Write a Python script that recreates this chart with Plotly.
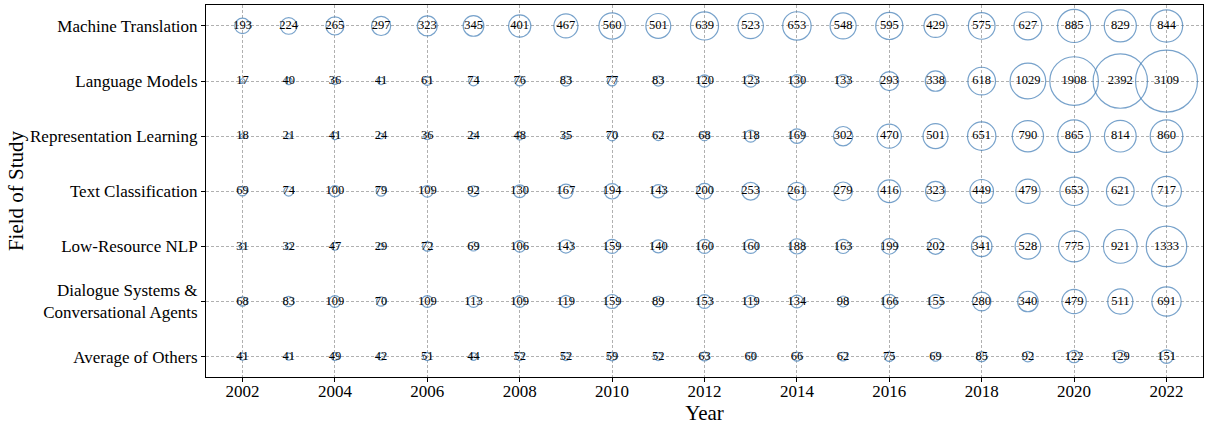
import plotly.graph_objects as go

years = list(range(2002, 2023))
fields = [
    "Machine Translation",
    "Language Models",
    "Representation Learning",
    "Text Classification",
    "Low-Resource NLP",
    "Dialogue Systems &<br>Conversational Agents",
    "Average of Others",
]

machine_translation = [193, 224, 265, 297, 323, 345, 401, 467, 560, 501, 639, 523, 653, 548, 595, 429, 575, 627, 885, 829, 844]
language_models = [17, 40, 36, 41, 61, 74, 76, 83, 77, 83, 120, 123, 130, 133, 293, 338, 618, 1029, 1908, 2392, 3109]
representation_learning = [18, 21, 41, 24, 36, 24, 48, 35, 70, 62, 68, 118, 169, 302, 470, 501, 651, 790, 865, 814, 860]
text_classification = [69, 74, 100, 79, 109, 92, 130, 167, 194, 143, 200, 253, 261, 279, 416, 323, 449, 479, 653, 621, 717]
low_resource = [31, 32, 47, 29, 72, 69, 106, 143, 159, 140, 160, 160, 188, 163, 199, 202, 341, 528, 775, 921, 1333]
dialogue = [68, 83, 109, 70, 109, 113, 109, 119, 159, 89, 153, 119, 134, 98, 166, 155, 280, 340, 479, 511, 691]
others = [41, 41, 49, 42, 51, 44, 52, 52, 59, 52, 63, 60, 66, 62, 75, 69, 85, 92, 122, 129, 151]

series = [machine_translation, language_models, representation_learning,
          text_classification, low_resource, dialogue, others]

xs, ys, vals = [], [], []
for f, s in zip(fields, series):
    for yr, v in zip(years, s):
        xs.append(yr)
        ys.append(f)
        vals.append(v)

fig = go.Figure()
fig.add_trace(go.Scatter(
    x=xs, y=ys, mode="markers+text",
    text=[str(v) for v in vals],
    textposition="middle center",
    textfont=dict(family="Liberation Serif", size=12.5, color="black"),
    marker=dict(size=vals, sizemode="area", sizeref=2 * 3109 / 62.0 ** 2, sizemin=1,
                color="rgba(0,0,0,0)", line=dict(color="#3f7cb6", width=1.2)),
    showlegend=False, cliponaxis=False,
))

grid = dict(showgrid=True, gridcolor="#b0b0b0", griddash="3px,2px", gridwidth=1, zeroline=False)

fig.update_layout(
    width=1205, height=427,
    margin=dict(l=206, r=2, t=5, b=50),
    paper_bgcolor="white", plot_bgcolor="white",
    font=dict(family="Liberation Serif", color="black"),
    xaxis=dict(
        range=[2001.21, 2022.79], tickmode="array", tickvals=list(range(2002, 2023, 2)),
        tickfont=dict(size=17), showline=True, linecolor="black", linewidth=1, mirror=True,
        ticks="outside", ticklen=4, tickcolor="black", automargin=False,
        ticklabelstandoff=-5,
        title=dict(text="Year", font=dict(size=21), standoff=2),
        **grid,
    ),
    yaxis=dict(
        type="category", categoryorder="array", categoryarray=fields,
        range=[6.37, -0.38],
        tickfont=dict(size=17), showline=True, linecolor="black", linewidth=1, mirror=True,
        ticks="outside", ticklen=4, tickcolor="black", automargin=False,
        title=dict(text="Field of Study", font=dict(size=21), standoff=0),
        **grid,
    ),
)

fig.write_html("out.html", config={"displayModeBar": False},
               post_script="document.body.style.margin='0';document.body.style.padding='0';")
